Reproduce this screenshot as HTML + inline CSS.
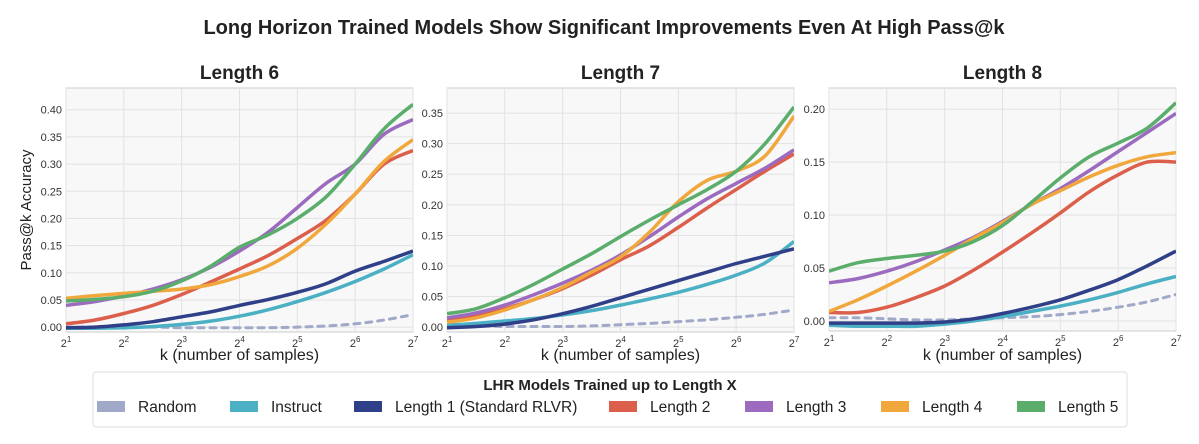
<!DOCTYPE html>
<html><head><meta charset="utf-8">
<style>
body{margin:0;background:#fff;font-family:"Liberation Sans",sans-serif;}
svg text{font-family:"Liberation Sans",sans-serif;}
</style></head>
<body>
<svg id="c" width="1199" height="439" viewBox="0 0 1199 439" xmlns="http://www.w3.org/2000/svg">
<text x="604" y="34" text-anchor="middle" font-size="20" font-weight="bold" fill="#222">Long Horizon Trained Models Show Significant Improvements Even At High Pass@k</text>
<g id="panels"></g>
<g>
<rect x="93" y="372" width="1034" height="55" rx="3" fill="#fff" stroke="#ddd"/>
<text x="610" y="390" text-anchor="middle" font-size="15" font-weight="bold" fill="#222">LHR Models Trained up to Length X</text>
<g id="leg"></g>
</g>
</svg>
<script>
const xs=[1,1.5,2,2.5,3,3.5,4,4.5,5,5.5,6,6.5,7];
const seriesNames=["Random","Instruct","Length 1 (Standard RLVR)","Length 2","Length 3","Length 4","Length 5"];
const colors=["#a1a9c9","#4bb0c4","#2f3f88","#dc5f4c","#9c6bbf","#f0a73c","#5bad6c"];
const p6Random=[0.0,0.0,0.0,0.0,-0.001,-0.001,-0.001,-0.001,0.0,0.002,0.006,0.013,0.023];
const p6Instruct=[-0.002,-0.002,-0.001,0.001,0.005,0.011,0.02,0.032,0.047,0.064,0.084,0.107,0.133];
const p6L1=[-0.001,0.0,0.004,0.01,0.019,0.028,0.04,0.051,0.064,0.08,0.103,0.121,0.14];
const p6L2=[0.006,0.013,0.025,0.04,0.06,0.083,0.107,0.132,0.163,0.197,0.245,0.3,0.325];
const p6L3=[0.04,0.047,0.057,0.07,0.087,0.11,0.14,0.175,0.22,0.265,0.3,0.355,0.382];
const p6L4=[0.053,0.058,0.062,0.066,0.07,0.078,0.093,0.113,0.145,0.19,0.245,0.305,0.345];
const p6L5=[0.048,0.051,0.056,0.066,0.085,0.112,0.147,0.17,0.2,0.24,0.3,0.365,0.41];
const p7Random=[0.002,0.002,0.001,0.001,0.001,0.002,0.004,0.006,0.009,0.012,0.016,0.021,0.028];
const p7Instruct=[0.003,0.006,0.01,0.014,0.02,0.027,0.036,0.046,0.057,0.07,0.085,0.105,0.14];
const p7L1=[-0.001,0.001,0.005,0.012,0.022,0.034,0.048,0.062,0.076,0.09,0.104,0.116,0.128];
const p7L2=[0.01,0.018,0.03,0.045,0.063,0.085,0.11,0.133,0.163,0.195,0.225,0.255,0.283];
const p7L3=[0.015,0.023,0.036,0.053,0.072,0.093,0.118,0.148,0.18,0.21,0.235,0.26,0.29];
const p7L4=[0.008,0.015,0.028,0.045,0.065,0.09,0.115,0.155,0.205,0.24,0.255,0.28,0.345];
const p7L5=[0.022,0.03,0.048,0.07,0.095,0.12,0.148,0.175,0.2,0.225,0.255,0.3,0.36];
const p8Random=[0.003,0.003,0.002,0.001,0.001,0.002,0.003,0.004,0.006,0.009,0.013,0.018,0.025];
const p8Instruct=[-0.004,-0.005,-0.005,-0.005,-0.003,0.0,0.004,0.009,0.014,0.02,0.027,0.035,0.042];
const p8L1=[-0.002,-0.002,-0.002,-0.002,-0.001,0.002,0.007,0.013,0.02,0.029,0.039,0.052,0.066];
const p8L2=[0.008,0.008,0.013,0.022,0.033,0.048,0.065,0.083,0.102,0.122,0.138,0.15,0.15];
const p8L3=[0.036,0.04,0.047,0.056,0.067,0.079,0.094,0.11,0.125,0.142,0.16,0.178,0.196];
const p8L4=[0.009,0.02,0.033,0.047,0.062,0.078,0.093,0.11,0.123,0.136,0.147,0.155,0.159];
const p8L5=[0.047,0.055,0.059,0.062,0.066,0.075,0.09,0.112,0.135,0.155,0.168,0.182,0.206];
const yTicks6=[0,0.05,0.1,0.15,0.2,0.25,0.3,0.35,0.4];
const yTicks7=[0,0.05,0.1,0.15,0.2,0.25,0.3,0.35];
const yTicks8=[0,0.05,0.1,0.15,0.2];
const xTicks=[1,2,3,4,5,6,7];
const panelTitles=["Length 6","Length 7","Length 8"];

const NS="http://www.w3.org/2000/svg";
function mk(tag,attrs,parent){const e=document.createElementNS(NS,tag);for(const k in attrs)e.setAttribute(k,attrs[k]);parent.appendChild(e);return e;}
const panels=[
 {L:66,R:413,T:88,B:332,ymin:-0.009,ymax:0.44,ticks:yTicks6,data:[p6Random,p6Instruct,p6L1,p6L2,p6L3,p6L4,p6L5]},
 {L:447,R:794,T:88,B:332,ymin:-0.008,ymax:0.391,ticks:yTicks7,data:[p7Random,p7Instruct,p7L1,p7L2,p7L3,p7L4,p7L5]},
 {L:829,R:1176,T:88,B:331,ymin:-0.0095,ymax:0.22,ticks:yTicks8,data:[p8Random,p8Instruct,p8L1,p8L2,p8L3,p8L4,p8L5]}
];
const root=document.getElementById('panels');
panels.forEach((p,pi)=>{
 const g=mk('g',{},root);
 
 
 const sx=v=>p.L+(v-1)/6*(p.R-p.L);
 const sy=v=>p.B-(v-p.ymin)/(p.ymax-p.ymin)*(p.B-p.T);
 mk('rect',{x:p.L,y:p.T,width:p.R-p.L,height:p.B-p.T,fill:'#f8f8f8',stroke:'#ccc'},g);
 xTicks.forEach(t=>{
  mk('line',{x1:sx(t),x2:sx(t),y1:p.T,y2:p.B,stroke:'#e2e2e2'},g);
  const tx=mk('text',{x:sx(t),y:p.B+15,'text-anchor':'middle','font-size':11,fill:'#333'},g);
  
  
  tx.innerHTML='2<tspan dy="-5" font-size="8">'+t+'</tspan>';
 });
 p.ticks.forEach(t=>{
  mk('line',{x1:p.L,x2:p.R,y1:sy(t),y2:sy(t),stroke:'#e2e2e2'},g);
  const tx=mk('text',{x:p.L-4,y:sy(t)+4,'text-anchor':'end','font-size':11,fill:'#333'},g);
  
  
  tx.textContent=t.toFixed(2);
 });
 const tt=mk('text',{x:(p.L+p.R)/2,y:79,'text-anchor':'middle','font-size':19,'font-weight':'bold',fill:'#222'},g);
 
 
 tt.textContent=panelTitles[pi];
 const xl=mk('text',{x:(p.L+p.R)/2,y:360,'text-anchor':'middle','font-size':16,fill:'#222'},g);
 
 
 xl.textContent='k (number of samples)';
 const cg=mk('g',{'clip-path':'url(#clip'+pi+')'},g);
 const cp=mk('clipPath',{id:'clip'+pi},g);mk('rect',{x:p.L,y:p.T,width:p.R-p.L,height:p.B-p.T},cp);
 p.data.forEach((arr,si)=>{
  const pts=xs.map((x,i)=>[sx(x),sy(arr[i])]);
  let d='M'+pts[0][0].toFixed(1)+','+pts[0][1].toFixed(1);
  for(let i=0;i<pts.length-1;i++){
   const p0=pts[Math.max(0,i-1)],p1=pts[i],p2=pts[i+1],p3=pts[Math.min(pts.length-1,i+2)];
   const c1=[p1[0]+(p2[0]-p0[0])/6,p1[1]+(p2[1]-p0[1])/6],c2=[p2[0]-(p3[0]-p1[0])/6,p2[1]-(p3[1]-p1[1])/6];
   d+=' C'+c1.map(v=>v.toFixed(1))+' '+c2.map(v=>v.toFixed(1))+' '+p2.map(v=>v.toFixed(1));
  }
  const path=mk('path',{d:d,fill:'none',stroke:colors[si],'stroke-width':si===0?3:3.5,'stroke-linecap':si===0?'round':'butt'},cg);
  if(si===0)path.setAttribute('stroke-dasharray','6,6');
  
  
 });
});
const yl=mk('text',{x:31,y:210,'text-anchor':'middle','font-size':15,fill:'#222',transform:'rotate(-90 31 210)'},root);


yl.textContent='Pass@k Accuracy';
const legX=[97,230,354,609,745,881,1017];
const leg=document.getElementById('leg');
seriesNames.forEach((n,i)=>{
 const e=mk('g',{},leg);
 
 
 mk('rect',{x:legX[i],y:401,width:28,height:11,fill:colors[i]},e);
 const t=mk('text',{x:legX[i]+41,y:412,'font-size':15.5,fill:'#222'},e);
 t.textContent=n;
});
</script>
</body></html>
